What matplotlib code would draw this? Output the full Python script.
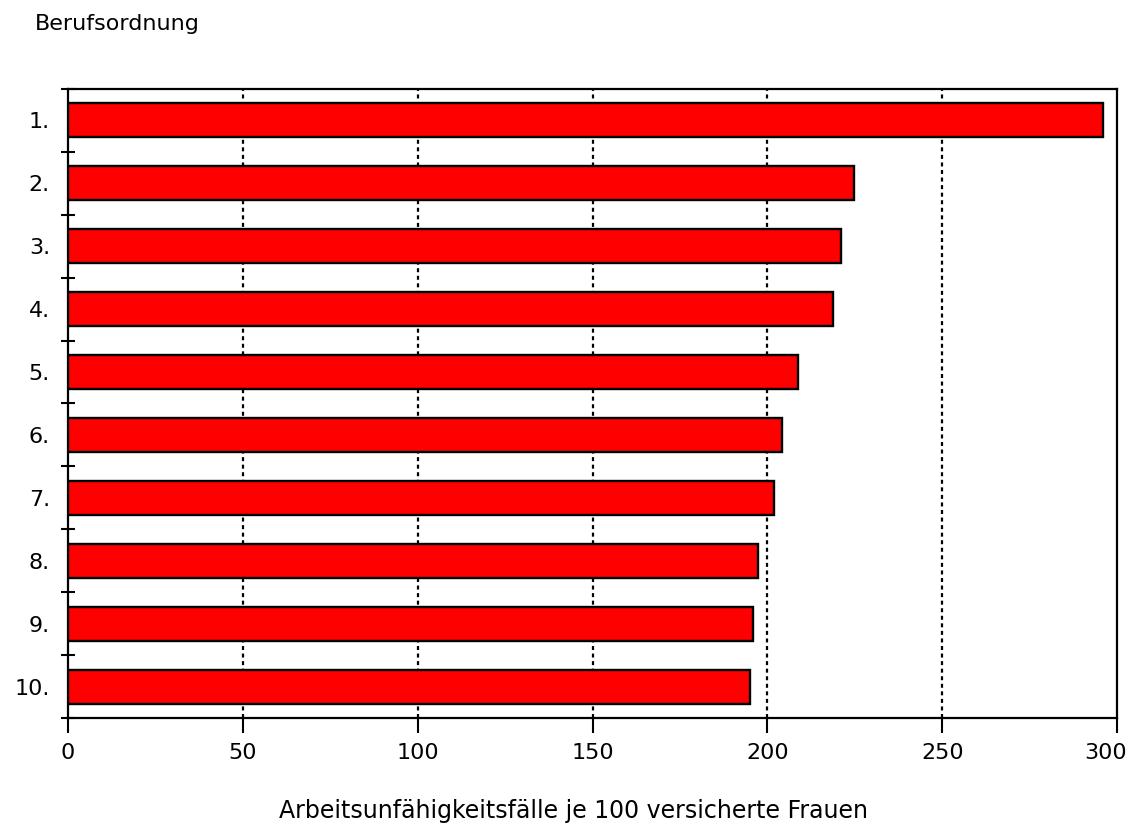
import matplotlib.pyplot as plt
import matplotlib.transforms as mtransforms
import numpy as np

# Berufsordnung ranks and sick-leave cases per 100 insured women
ranks = ['1.', '2.', '3.', '4.', '5.', '6.', '7.', '8.', '9.', '10.']
values = [295.9, 224.8, 221.0, 218.7, 208.8, 204.1, 201.8, 197.3, 195.8, 195.0]
xticks = [0, 50, 100, 150, 200, 250, 300]

plt.rcParams['font.family'] = ['DejaVu Sans']

fig = plt.figure(figsize=(11.36, 8.31), dpi=100)
ax = fig.add_axes([0.0599, 0.1360, 0.9234, 0.7569])

y = np.arange(len(ranks))
ax.barh(y, values, height=0.54, color='#ff0000', edgecolor='black', linewidth=1.7, zorder=3)

ax.set_xlim(0, 300)
ax.set_ylim(len(ranks) - 0.5, -0.5)

# dotted vertical grid
for v in xticks[1:-1]:
    ax.axvline(v, color='black', linestyle=(0, (1.8, 1.6)), linewidth=1.6, zorder=1)

ax.set_xticks(xticks)
ax.set_xticklabels([str(v) for v in xticks], fontsize=16)
ax.tick_params(axis='x', direction='out', length=11, width=1.5, pad=7)

# last label sits a little left of its tick, as in the original
last = ax.get_xticklabels()[-1]
last.set_transform(last.get_transform() + mtransforms.ScaledTranslation(-8 / 72, 0, fig.dpi_scale_trans))

ax.set_yticks(y)
ax.set_yticklabels(ranks, fontsize=16)
ax.tick_params(axis='y', which='major', length=0, pad=13)
ax.set_yticks(np.arange(len(ranks) + 1) - 0.5, minor=True)
ax.tick_params(axis='y', which='minor', direction='inout', length=10, width=1.5)

for s in ax.spines.values():
    s.set_linewidth(1.6)

fig.text(0.031, 0.971, 'Berufsordnung', fontsize=16, ha='left', va='center')
fig.text(0.505, 0.024, 'Arbeitsunfähigkeitsfälle je 100 versicherte Frauen',
         fontsize=17, ha='center', va='center')

plt.savefig('out.png', dpi=100)
